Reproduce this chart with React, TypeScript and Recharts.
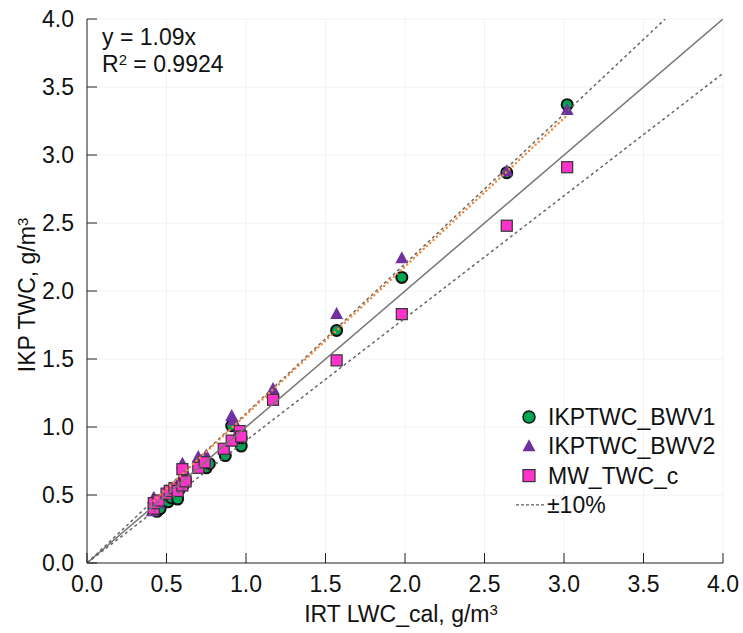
import React from "react";
import {
    ScatterChart,
    Scatter,
    XAxis,
    YAxis,
    CartesianGrid,
    Legend
} from "recharts";

// IKPTWC_BWV1 (green circles)
const bwv1X = [0.44, 0.46, 0.51, 0.53, 0.57, 0.58, 0.61, 0.62, 0.75, 0.77, 0.87, 0.91, 0.97, 0.97, 1.17, 1.57, 1.98, 2.64, 3.02];
const bwv1Y = [0.38, 0.40, 0.45, 0.48, 0.47, 0.54, 0.58, 0.60, 0.70, 0.73, 0.79, 1.01, 0.86, 0.92, 1.22, 1.71, 2.10, 2.87, 3.37];

// IKPTWC_BWV2 (purple triangles)
const bwv2X = [0.41, 0.42, 0.45, 0.50, 0.55, 0.58, 0.60, 0.62, 0.70, 0.75, 0.91, 0.92, 0.97, 1.17, 1.57, 1.98, 2.64, 3.02];
const bwv2Y = [0.38, 0.48, 0.44, 0.53, 0.55, 0.60, 0.73, 0.66, 0.78, 0.79, 1.08, 1.05, 0.94, 1.28, 1.83, 2.24, 2.88, 3.33];

// MW_TWC_c (pink squares)
const mwX = [0.42, 0.42, 0.45, 0.50, 0.52, 0.55, 0.57, 0.60, 0.60, 0.62, 0.70, 0.74, 0.86, 0.91, 0.96, 0.97, 1.17, 1.57, 1.98, 2.64, 3.02];
const mwY = [0.40, 0.44, 0.46, 0.51, 0.53, 0.55, 0.53, 0.57, 0.69, 0.60, 0.70, 0.74, 0.84, 0.90, 0.97, 0.93, 1.20, 1.49, 1.83, 2.48, 2.91];

const axisTicks = [0, 0.5, 1, 1.5, 2, 2.5, 3, 3.5, 4];
const axisMax = 4;
const fitSlope = 1.09;
const fitRange = [0.42, 3.02];
const rSquared = "0.9924";
const tolerance = 0.1;

const legendNames = ["IKPTWC_BWV1", "IKPTWC_BWV2", "MW_TWC_c", "\u00B110%"];

const FONT = "Arial, 'Liberation Sans', sans-serif";
const GREEN = "#00A651";
const PURPLE = "#7030A0";
const PINK = "#FF33CC";

const toPoints = (xs: number[], ys: number[]) => xs.map((x, i) => ({ x, y: ys[i] }));

const bwv1Data = toPoints(bwv1X, bwv1Y);
const bwv2Data = toPoints(bwv2X, bwv2Y);
const mwData = toPoints(mwX, mwY);
const oneToOne = [{ x: 0, y: 0 }, { x: axisMax, y: axisMax }];
const upperBand = [{ x: 0, y: 0 }, { x: axisMax / (1 + tolerance), y: axisMax }];
const lowerBand = [{ x: 0, y: 0 }, { x: axisMax, y: axisMax * (1 - tolerance) }];
const fitLine = fitRange.map(x => ({ x, y: x * fitSlope }));

const Circle = (p: any) => (
    <circle cx={p.cx} cy={p.cy} r={5.5} fill={GREEN} stroke="#111" strokeWidth={2} />
);
const Triangle = (p: any) => (
    <path
        d={`M${p.cx},${p.cy - 7} L${p.cx + 6.5},${p.cy + 5} L${p.cx - 6.5},${p.cy + 5} Z`}
        fill={PURPLE}
    />
);
const Square = (p: any) => (
    <rect x={p.cx - 5.5} y={p.cy - 5.5} width={11} height={11} fill={PINK} stroke="#333" strokeWidth={1.2} />
);
const NoShape = () => <g />;

const XTick = (props: any) => {
    const { x, y, payload } = props;
    return (
        <g>
            <line x1={x} y1={y} x2={x} y2={y - 10} stroke="#222" />
            <text x={x} y={y + 29} textAnchor="middle" fontSize={23} fontFamily={FONT} fill="#111">
                {Number(payload.value).toFixed(1)}
            </text>
        </g>
    );
};

const YTick = (props: any) => {
    const { x, y, payload } = props;
    return (
        <g>
            <line x1={x} y1={y} x2={x + 10} y2={y} stroke="#222" />
            <text x={x - 13} y={y + 8} textAnchor="end" fontSize={23} fontFamily={FONT} fill="#111">
                {Number(payload.value).toFixed(1)}
            </text>
        </g>
    );
};

const XLabel = (props: any) => {
    const vb = props.viewBox;
    return (
        <text x={vb.x + vb.width / 2 - 4} y={vb.y + 59} textAnchor="middle" fontSize={23} fontFamily={FONT} fill="#111">
            IRT LWC_cal, g/m<tspan fontSize={15} dy={-7}>3</tspan>
        </text>
    );
};

const YLabel = (props: any) => {
    const vb = props.viewBox;
    const cx = 35;
    const cy = vb.y + vb.height / 2 + 4;
    return (
        <text
            x={cx}
            y={cy}
            transform={`rotate(-90 ${cx} ${cy})`}
            textAnchor="middle"
            fontSize={23}
            fontFamily={FONT}
            fill="#111"
        >
            IKP TWC, g/m<tspan fontSize={15} dy={-7}>3</tspan>
        </text>
    );
};

const renderLegend = () => {
    const rowY = (i: number) => 17 + i * 29.3;
    return (
        <svg width={230} height={120} style={{ display: "block" }}>
            <circle cx={24} cy={rowY(0)} r={6} fill={GREEN} stroke="#111" strokeWidth={1.5} />
            <path d={`M24,${rowY(1) - 7} L30.5,${rowY(1) + 5} L17.5,${rowY(1) + 5} Z`} fill={PURPLE} />
            <rect x={18} y={rowY(2) - 6} width={12} height={12} fill={PINK} stroke="#333" strokeWidth={1.2} />
            <line x1={11} y1={rowY(3)} x2={41} y2={rowY(3)} stroke="#333" strokeDasharray="3 2" />
            {legendNames.map((name, i) => (
                <text key={name} x={i === 3 ? 42 : 43} y={rowY(i) + 8} fontSize={23} fontFamily={FONT} fill="#111">
                    {name}
                </text>
            ))}
        </svg>
    );
};

export default function App() {
    return (
        <div style={{ position: "absolute", left: 0, top: 0, width: 743, height: 633, background: "#fff" }}>
            <ScatterChart width={743} height={633} margin={{ top: 19, right: 20, left: 0, bottom: 20 }}>
                <CartesianGrid stroke="#f2f2f2" strokeWidth={1} />
                <XAxis
                    type="number"
                    dataKey="x"
                    domain={[0, axisMax]}
                    ticks={axisTicks}
                    height={50}
                    tickSize={0}
                    tickMargin={0}
                    tickLine={false}
                    tick={<XTick />}
                    axisLine={{ stroke: "#222" }}
                    allowDataOverflow
                    label={{ content: <XLabel /> }}
                />
                <YAxis
                    type="number"
                    dataKey="y"
                    domain={[0, axisMax]}
                    ticks={axisTicks}
                    width={87}
                    tickSize={0}
                    tickMargin={0}
                    tickLine={false}
                    tick={<YTick />}
                    axisLine={{ stroke: "#222" }}
                    allowDataOverflow
                    label={{ content: <YLabel /> }}
                />
                <Scatter name="IKPTWC_BWV1" data={bwv1Data} shape={Circle} isAnimationActive={false} />
                <Scatter name="IKPTWC_BWV2" data={bwv2Data} shape={Triangle} isAnimationActive={false} />
                <Scatter name="MW_TWC_c" data={mwData} shape={Square} isAnimationActive={false} />
                <Scatter
                    data={oneToOne}
                    shape={NoShape}
                    line={{ stroke: "#777", strokeWidth: 1.5 }}
                    legendType="none"
                    isAnimationActive={false}
                />
                <Scatter
                    data={upperBand}
                    shape={NoShape}
                    line={{ stroke: "#666", strokeWidth: 1.5, strokeDasharray: "3 3" }}
                    legendType="none"
                    isAnimationActive={false}
                />
                <Scatter
                    data={lowerBand}
                    shape={NoShape}
                    line={{ stroke: "#666", strokeWidth: 1.5, strokeDasharray: "3 3" }}
                    legendType="none"
                    isAnimationActive={false}
                />
                <Scatter
                    data={fitLine}
                    shape={NoShape}
                    line={{ stroke: "#F08A3C", strokeWidth: 2.5, strokeDasharray: "0 4.5", strokeLinecap: "round" }}
                    legendType="none"
                    isAnimationActive={false}
                />
                <Legend
                    layout="vertical"
                    align="center"
                    verticalAlign="middle"
                    content={renderLegend}
                    wrapperStyle={{ left: 505, top: 400, width: 230, height: 120 }}
                />
            </ScatterChart>
            <div
                style={{
                    position: "absolute",
                    left: 102,
                    top: 24,
                    fontFamily: FONT,
                    fontSize: 23,
                    lineHeight: "27px",
                    color: "#111"
                }}
            >
                <div>y = {fitSlope}x</div>
                <div>
                    R<span style={{ fontSize: 15, position: "relative", top: -7 }}>2</span> = {rSquared}
                </div>
            </div>
        </div>
    );
}
